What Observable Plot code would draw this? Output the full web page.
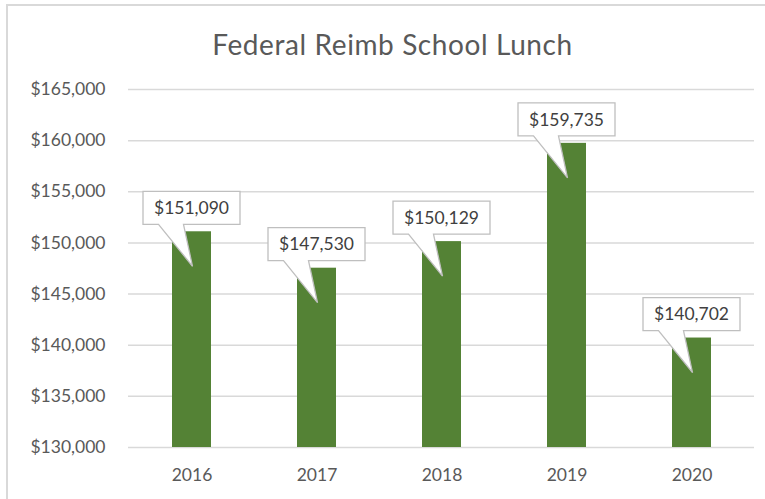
<!DOCTYPE html>
<html>
<head>
<meta charset="utf-8">
<script src="https://cdn.jsdelivr.net/npm/d3@7"></script>
<script src="https://cdn.jsdelivr.net/npm/@observablehq/plot@0.6"></script>
<style>
  html, body { margin: 0; padding: 0; background: #fff; }
  #wrap { position: relative; width: 765px; height: 499px; overflow: hidden; font-family: Lato, "Open Sans", sans-serif; }
  #border { position: absolute; left: 6px; top: 4px; width: 800px; height: 600px; border: 2px solid #d9d9d9; box-sizing: border-box; }
  #title { position: absolute; left: 0; top: 26px; width: 785px; text-align: center; font-size: 28px; letter-spacing: 0.6px; line-height: 36px; color: #595959; }
  #chart { position: absolute; left: 0; top: 0; }
</style>
</head>
<body>
<div id="wrap">
  <div id="border"></div>
  <div id="chart"></div>
  <div id="title">Federal Reimb School Lunch</div>
</div>
<script>
const years = ["2016", "2017", "2018", "2019", "2020"];
const amounts = [151090, 147530, 150129, 159735, 140702];
const yTicks = [130000, 135000, 140000, 145000, 150000, 155000, 160000, 165000];

const data = years.map((year, i) => ({year, amount: amounts[i]}));
const fmt = d3.format("$,");

function callouts(index, scales) {
  const g = d3.create("svg:g");
  const x = scales.x, y = scales.y;
  const bw = x.bandwidth();
  data.forEach(d => {
    const cx = x(d.year) + bw / 2;
    const ty = y(d.amount);
    const w = 97, h = 33;
    const bottom = ty - 7, top = bottom - h;
    const left = cx - w / 2, right = cx + w / 2;
    const path = `M${left},${top}H${right}V${bottom}H${cx - 8}L${cx + 1},${ty + 35}L${cx - 33},${bottom}H${left}Z`;
    g.append("path").attr("d", path).attr("fill", "#fff").attr("stroke", "#bfbfbf").attr("stroke-width", 1.3);
    g.append("text").attr("x", cx).attr("y", (top + bottom) / 2).attr("dy", "0.36em")
      .attr("text-anchor", "middle").attr("fill", "#404040")
      .style("font-family", "Lato, 'Open Sans', sans-serif").style("font-size", "17.5px")
      .text(fmt(d.amount));
  });
  return g.node();
}

const chart = Plot.plot({
  width: 765,
  height: 499,
  marginLeft: 128,
  marginRight: 11,
  marginTop: 89,
  marginBottom: 52,
  style: { fontFamily: "Lato, 'Open Sans', sans-serif", fontSize: "17.5px", color: "#595959", background: "transparent" },
  x: { domain: years, paddingInner: 0.69, paddingOuter: 0.345, label: null, tickSize: 0, tickPadding: 21 },
  y: { domain: [130000, 165000], ticks: yTicks, tickFormat: fmt, label: null, tickSize: 0, tickPadding: 23 },
  marks: [
    Plot.gridY(yTicks, { stroke: "#d9d9d9", strokeOpacity: 1, strokeWidth: 1.5 }),
    Plot.barY(data, { x: "year", y1: 130000, y2: "amount", fill: "#548235" }),
    callouts
  ]
});
document.getElementById("chart").appendChild(chart);
</script>
</body>
</html>
